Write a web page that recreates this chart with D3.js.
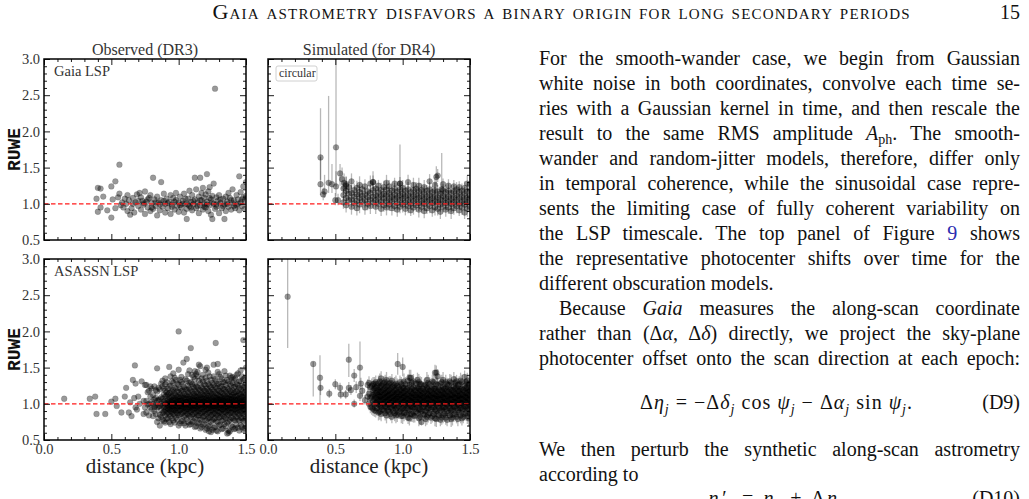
<!DOCTYPE html>
<html><head><meta charset="utf-8">
<script src="https://cdn.jsdelivr.net/npm/d3@7"></script>
<style>
body{margin:0;background:#fff;width:1029px;height:499px;overflow:hidden;position:relative;font-family:"Liberation Serif","Tinos","Times New Roman","DejaVu Serif",serif;}
svg{position:absolute;left:0;top:0}
.ln{position:absolute;left:539px;width:481px;font-size:20px;line-height:24px;height:24px;color:#111;white-space:nowrap}
.j{text-align:justify;text-align-last:justify;white-space:normal}
.ln sub{font-size:14px;vertical-align:-4px;line-height:0}
</style></head><body>
<svg id="chart" width="1029" height="499"></svg>
<div id="text"></div>
<script>
// ---------------- data ----------------
const xTicks = [0.0, 0.5, 1.0, 1.5];
const yTicks = [0.5, 1.0, 1.5, 2.0, 2.5, 3.0];
const colTitles = ["Observed (DR3)", "Simulated (for DR4)"];
const rowLabels = ["Gaia LSP", "ASASSN LSP"];
const legendLabel = "circular";
const yLabel = "RUWE";
const xLabel = "distance (kpc)";
const refRUWE = 1.0;

// Observed DR3, Gaia LSP sample: [distance kpc, RUWE]
const gaiaObs = [[0.39,1.07],[0.40,0.89],[0.40,1.22],[0.42,1.21],[0.42,0.95],[0.44,1.10],[0.47,0.91],[0.50,1.24],[0.50,0.81],[0.51,1.06],[0.53,1.31],[0.53,0.94],[0.55,1.09],[0.56,1.54],[0.56,1.14],[0.57,0.98],[0.58,1.02],[0.59,0.95],[0.60,1.07],[0.61,1.00],[0.62,0.90],[0.62,1.12],[0.63,1.05],[0.64,0.85],[0.65,0.94],[0.66,1.08],[0.66,1.00],[0.67,0.88],[0.68,1.02],[0.69,1.13],[0.70,0.97],[0.70,1.04],[0.71,1.15],[0.72,1.09],[0.72,0.92],[0.73,1.04],[0.74,0.99],[0.74,1.01],[0.75,1.17],[0.75,0.86],[0.76,1.03],[0.77,0.95],[0.77,1.06],[0.78,1.08],[0.79,1.12],[0.79,0.90],[0.80,1.01],[0.80,0.95],[0.81,1.36],[0.81,0.93],[0.82,1.06],[0.83,0.97],[0.83,1.02],[0.84,0.84],[0.84,1.10],[0.85,1.02],[0.86,0.91],[0.86,0.99],[0.87,1.30],[0.87,1.05],[0.88,0.96],[0.89,1.14],[0.89,1.04],[0.90,1.00],[0.90,0.88],[0.91,1.07],[0.92,0.94],[0.92,1.01],[0.93,1.03],[0.94,1.12],[0.94,0.86],[0.95,0.99],[0.95,0.96],[0.96,1.08],[0.97,0.92],[0.97,1.03],[0.98,1.05],[0.98,1.15],[0.99,0.97],[1.00,1.02],[1.00,0.89],[1.01,1.10],[1.01,0.98],[1.02,0.95],[1.03,1.04],[1.03,1.00],[1.04,0.88],[1.04,1.14],[1.05,1.00],[1.05,1.07],[1.06,0.79],[1.06,0.93],[1.07,1.07],[1.07,0.99],[1.08,0.97],[1.08,1.18],[1.09,1.03],[1.09,0.95],[1.10,0.91],[1.10,1.12],[1.11,0.99],[1.11,1.04],[1.12,1.36],[1.12,1.06],[1.13,0.94],[1.13,1.20],[1.14,1.02],[1.14,0.97],[1.15,0.87],[1.15,1.10],[1.16,1.36],[1.16,0.98],[1.16,1.05],[1.17,1.15],[1.17,1.05],[1.18,0.92],[1.18,1.22],[1.19,1.00],[1.19,1.08],[1.19,0.96],[1.20,0.95],[1.20,1.13],[1.21,1.41],[1.21,1.03],[1.21,0.99],[1.22,0.90],[1.22,1.17],[1.23,1.23],[1.23,0.98],[1.23,1.08],[1.24,1.06],[1.24,0.85],[1.25,0.79],[1.25,1.11],[1.25,1.02],[1.26,1.28],[1.26,1.00],[1.27,2.59],[1.27,0.93],[1.28,1.09],[1.28,0.96],[1.28,0.99],[1.29,1.04],[1.30,0.87],[1.30,1.12],[1.31,1.01],[1.31,1.06],[1.32,0.94],[1.33,1.07],[1.33,0.97],[1.34,0.79],[1.34,0.99],[1.35,1.10],[1.35,0.90],[1.36,1.03],[1.36,1.00],[1.37,1.15],[1.37,0.96],[1.38,1.08],[1.39,0.92],[1.39,1.05],[1.40,1.01],[1.40,1.20],[1.41,1.05],[1.41,0.97],[1.42,0.94],[1.43,1.12],[1.43,0.98],[1.44,1.06],[1.44,1.00],[1.45,1.38],[1.45,0.91],[1.46,1.02],[1.46,1.16],[1.47,0.97],[1.47,1.06],[1.48,1.09],[1.48,1.24],[1.49,1.04],[1.49,0.93],[1.50,1.30],[1.50,1.11]];

// Simulated (circular), Gaia LSP: isolated stars [distance, RUWE, lower, upper]
const gaiaSimSparse = [[0.39,1.27,1.12,1.65],[0.39,1.64,1.33,2.32],[0.41,1.13,1.05,1.22],[0.42,1.17,1.08,1.40],[0.45,1.29,1.15,2.49],[0.475,1.27,1.15,1.55],[0.50,1.05,0.98,1.15],[0.505,1.24,1.10,1.45],[0.505,1.78,1.24,3.05],[0.52,1.05,0.98,1.14],[0.535,1.42,1.25,1.55],[0.55,1.34,1.20,1.50],[0.565,1.29,1.18,1.42],[0.58,1.25,1.12,1.38],[0.78,1.30,1.18,1.45],[0.98,1.28,1.12,1.82],[1.25,1.37,1.25,1.52],[1.29,1.20,1.08,1.70],[1.50,1.27,1.12,1.40]];
// Simulated (circular), Gaia LSP bulk: [distance, error (x100), RUWE values (x100)]
const gaiaSimCols = [[0.56,9,[102,112,121]],[0.58,10,[98,108,118,127]],[0.60,8,[105,114,123]],[0.62,11,[96,106,115,131]],[0.64,9,[101,110,119]],[0.66,10,[94,104,113,122]],[0.68,12,[99,108,116,126]],[0.70,8,[103,111,120]],[0.72,10,[95,105,113,124]],[0.74,9,[100,109,117]],[0.76,11,[97,106,115,128]],[0.78,9,[102,110,119,130]],[0.80,10,[96,105,112,121]],[0.82,8,[100,108,116,125]],[0.84,10,[93,103,111,119]],[0.86,9,[98,107,114,123]],[0.88,11,[95,104,112,120,129]],[0.90,9,[99,107,115,124]],[0.92,10,[94,103,110,118]],[0.94,8,[97,106,113,121,128]],[0.96,10,[92,101,109,117]],[0.98,9,[96,105,112,120,128]],[1.00,11,[99,107,114,122]],[1.02,9,[93,102,110,118]],[1.04,10,[97,105,112,120,130]],[1.06,8,[91,100,108,116]],[1.08,10,[95,104,111,119,126]],[1.10,9,[98,106,113,121]],[1.12,11,[92,101,109,117,125]],[1.14,9,[96,104,111,119]],[1.16,10,[90,100,107,115,123]],[1.18,8,[94,103,110,118]],[1.20,10,[97,105,112,120,131]],[1.22,9,[91,101,108,116]],[1.24,11,[95,103,110,118,126]],[1.26,9,[93,102,109,117,139]],[1.28,10,[89,99,106,114]],[1.30,8,[96,104,111,119,127]],[1.32,10,[92,101,108,116]],[1.34,9,[95,103,110,118,125]],[1.36,11,[90,100,107,115]],[1.38,9,[94,102,109,117,124]],[1.40,10,[97,105,112,120]],[1.42,8,[91,100,108,116,123]],[1.44,10,[95,103,110,118]],[1.46,9,[88,99,106,114,122]],[1.48,11,[93,102,109,117,128]],[1.50,9,[96,104,111,119]]];

// Observed DR3, ASASSN LSP: isolated stars [distance, RUWE]
const asassnObsSparse = [[0.15,1.07],[0.34,1.07],[0.38,1.10],[0.39,0.86],[0.455,0.86],[0.50,1.03],[0.53,1.07],[0.54,0.97],[0.575,0.88],[0.60,1.10],[0.61,1.22],[0.63,0.88],[0.64,1.02],[0.65,0.83],[0.66,1.33],[0.675,1.53],[0.67,1.08],[0.68,1.28],[0.68,0.95],[0.69,0.92],[0.70,1.10],[0.71,1.00],[0.725,1.31],[0.74,0.86],[0.74,1.04],[0.75,1.26],[0.75,0.95],[0.84,1.49],[0.93,1.51],[1.0,2.0],[1.035,1.57],[1.06,1.62],[1.09,1.77],[1.12,1.45],[1.15,1.54],[1.275,1.84],[1.29,1.55],[1.48,1.88],[1.225,0.62],[1.37,0.60]];
// Observed DR3, ASASSN LSP bulk: [distance, RUWE values (x100)]
const asassnObsCols = [[0.76,[88,104,126]],[0.77,[99,116]],[0.78,[84,100,118]],[0.79,[95,110,124]],[0.80,[92,103,121]],[0.81,[83,100,112]],[0.82,[90,96,106,124]],[0.83,[86,98,108,119]],[0.84,[75,95,104,117]],[0.85,[80,96,105,122]],[0.86,[70,85,97,106,120]],[0.87,[82,91,100,109,128]],[0.88,[78,87,98,107,124,132]],[0.89,[76,89,95,103,113,121]],[0.90,[74,84,91,96,100,104,110,118,127,135]],[0.91,[79,87,93,101,111,116,130]],[0.92,[80,88,94,98,102,106,113,121]],[0.93,[75,86,92,96,100,104,109,115,124]],[0.94,[72,83,90,95,99,103,108,116,125,138]],[0.95,[80,88,93,97,101,105,110,117,131]],[0.96,[77,86,92,97,101,105,111,119,129,142]],[0.97,[74,85,91,96,100,104,108,114,122,136]],[0.98,[81,89,94,98,102,106,112,121,133]],[0.99,[78,87,92,97,101,105,110,117,128]],[1.00,[70,84,91,96,100,104,109,116,126,147]],[1.01,[73,85,91,96,100,104,108,113,121,133]],[1.02,[76,86,93,97,101,105,110,118,130,137]],[1.03,[77,88,93,97,101,105,111,119,127]],[1.04,[73,82,90,95,99,103,108,114,123]],[1.05,[70,84,90,95,99,103,107,112,120,134]],[1.06,[79,87,93,98,102,106,112,120,132]],[1.07,[75,86,92,96,100,104,109,116,125,141]],[1.08,[71,83,90,95,99,103,107,113,121,129,146]],[1.09,[72,82,89,94,98,102,106,111,119,130]],[1.10,[75,85,92,97,101,105,110,117,127,140]],[1.11,[76,86,92,96,100,104,108,114,123,137]],[1.12,[68,80,88,94,98,102,106,111,118,126,134]],[1.13,[69,81,88,93,97,101,105,110,116,124,141]],[1.14,[73,84,91,96,100,104,109,115,123,138,144]],[1.15,[74,84,90,95,99,103,107,112,120,132]],[1.16,[66,78,87,93,98,102,106,112,119,128,152]],[1.17,[68,79,87,93,97,101,105,109,115,123,135]],[1.18,[71,82,89,95,99,103,107,113,121,131,140]],[1.19,[72,83,90,95,99,103,107,112,118,127]],[1.20,[64,77,86,92,97,101,105,110,117,125,136,147]],[1.21,[66,78,86,92,96,100,104,108,114,121,132,150]],[1.22,[69,80,88,94,98,102,106,111,118,127,143]],[1.23,[70,81,88,94,98,102,106,111,117,125,138]],[1.24,[61,75,84,91,96,100,104,109,115,123,133]],[1.25,[64,77,85,91,95,99,103,107,113,120,129]],[1.26,[67,79,87,93,97,101,105,110,117,126,138,154]],[1.27,[68,80,87,93,97,101,105,109,115,123,134]],[1.28,[63,76,85,92,96,100,104,108,114,122,131]],[1.29,[62,75,84,90,95,99,103,107,112,119,127,144]],[1.30,[70,81,88,94,98,102,106,111,118,128,141]],[1.31,[71,82,89,94,98,102,106,110,116,124,137]],[1.32,[65,77,86,92,97,101,105,109,116,124,134]],[1.33,[66,78,86,92,96,100,104,108,114,121,130]],[1.34,[72,82,89,95,99,103,107,112,120,130,145]],[1.35,[69,80,88,93,97,101,105,110,117,126,139]],[1.36,[59,74,84,91,96,100,104,108,114,122,133]],[1.37,[63,76,85,91,95,99,103,107,113,120,131]],[1.38,[62,78,87,93,98,102,106,111,118,127,139]],[1.39,[70,81,88,94,98,102,106,110,116,125,136]],[1.40,[68,80,88,94,99,103,107,112,119,129,137]],[1.41,[65,78,86,92,96,100,104,109,115,123,133]],[1.42,[66,77,86,92,97,101,105,110,116,124,135]],[1.43,[71,82,89,94,98,102,106,111,117,127,140]],[1.44,[67,79,87,93,98,102,106,111,118,126,142]],[1.45,[63,77,85,91,96,100,104,108,114,122,131]],[1.46,[71,81,89,95,99,103,107,113,120,131,146]],[1.47,[68,80,87,93,97,101,105,110,116,125,138]],[1.48,[64,76,85,92,97,101,105,109,115,123,134]],[1.49,[66,78,86,92,96,100,104,109,115,124,135]],[1.50,[69,80,88,94,98,102,106,112,119,128,150]]];

// Simulated (circular), ASASSN LSP: isolated stars [distance, RUWE, lower, upper]
const asassnSimSparse = [[0.146,2.48,1.77,3.05],[0.336,1.55,1.10,1.58],[0.386,1.36,1.01,1.67],[0.39,1.22,1.12,1.32],[0.455,1.14,1.08,1.20],[0.50,1.27,1.20,1.34],[0.535,1.22,1.15,1.29],[0.54,1.13,1.07,1.19],[0.577,1.13,1.07,1.19],[0.60,1.61,1.37,1.83],[0.60,1.22,1.15,1.30],[0.616,1.19,1.12,1.26],[0.64,1.39,1.30,1.48],[0.64,1.00,0.95,1.06],[0.655,1.23,1.15,1.31],[0.683,1.50,1.19,1.86],[0.683,1.11,1.04,1.18],[0.69,1.28,1.20,1.36],[0.70,1.18,1.10,1.26],[0.72,1.05,0.99,1.12],[0.963,1.55,1.40,1.70],[1.00,1.51,1.38,1.64],[1.05,1.36,1.25,1.47],[1.25,1.43,1.33,1.53],[1.14,0.75,0.70,0.82]];
// Simulated (circular), ASASSN LSP bulk: [distance, error (x100), RUWE values (x100)]
const asassnSimCols = [[0.74,8,[110,126]],[0.75,9,[100,114,129]],[0.76,9,[96,108,123]],[0.77,10,[95,110,125]],[0.78,10,[93,104,112,119,127]],[0.79,9,[91,99,106,113,121,128]],[0.80,9,[90,101,108,115,122,130]],[0.81,10,[94,102,109,116,124]],[0.82,11,[88,99,106,112,119,128]],[0.83,11,[89,97,104,110,116,123,131]],[0.84,10,[86,96,104,110,117,125,135]],[0.85,9,[92,100,106,112,119,127]],[0.86,9,[91,100,107,113,120,129]],[0.87,10,[87,96,103,109,115,122,130]],[0.88,11,[84,95,103,109,116,124,133]],[0.89,11,[91,99,105,111,117,125]],[0.90,10,[89,99,106,112,119,128]],[0.91,9,[86,95,102,108,114,121,129]],[0.92,9,[82,94,102,108,115,123,132]],[0.93,10,[90,98,104,110,116,124]],[0.94,11,[87,97,105,111,118,126]],[0.95,11,[84,93,101,107,113,120,128]],[0.96,10,[85,95,103,109,116,125]],[0.97,9,[88,97,104,110,116,123]],[0.98,9,[90,100,107,113,120,130]],[0.99,10,[83,92,100,106,112,119,127]],[1.00,11,[83,94,102,108,115,123]],[1.01,11,[87,96,103,109,115,122,131]],[1.02,10,[88,98,105,111,118,127]],[1.03,9,[85,94,101,107,113,120]],[1.04,9,[81,93,101,107,114,122,132]],[1.05,10,[80,91,99,105,111,118,126]],[1.06,11,[86,97,104,110,117,136]],[1.07,11,[86,95,102,108,114,121,129]],[1.08,10,[84,95,103,109,115,123,131]],[1.09,9,[83,93,100,106,112,119]],[1.10,9,[89,99,106,112,119,128]],[1.11,10,[87,96,103,109,115,122,133]],[1.12,11,[80,92,101,107,113,121,130]],[1.13,11,[82,92,100,106,112,119,127]],[1.14,10,[90,99,105,111,118,127]],[1.15,9,[86,95,102,108,114,121]],[1.16,9,[85,96,103,109,116,125]],[1.17,10,[79,90,99,105,111,118,126]],[1.18,11,[82,93,101,107,114,122,133]],[1.19,11,[85,94,101,107,113,120,129]],[1.20,10,[87,98,105,111,118,127]],[1.21,9,[81,92,100,106,112,119]],[1.22,9,[83,95,103,109,115,123,131]],[1.23,10,[86,95,102,108,114,121,130]],[1.24,11,[80,92,101,107,113,121,143]],[1.25,11,[79,90,99,105,111,118,127]],[1.26,10,[86,97,104,110,117,126,138]],[1.27,9,[84,94,101,107,113,120]],[1.28,9,[78,91,100,106,112,119,128]],[1.29,10,[81,92,100,106,112,119,130]],[1.30,11,[84,95,103,109,115,123,133]],[1.31,11,[86,95,102,108,114,121]],[1.32,10,[81,93,101,107,114,122,130]],[1.33,9,[78,90,99,105,111,118,127]],[1.34,9,[87,97,104,110,117,126]],[1.35,10,[84,94,101,107,113,120,131]],[1.36,11,[79,91,100,106,112,120,129]],[1.37,11,[81,92,100,106,112,119]],[1.38,10,[85,96,103,109,116,124,134]],[1.39,9,[86,95,102,108,114,121,129]],[1.40,9,[82,94,102,108,114,122,131]],[1.41,10,[79,91,99,105,111,118,126]],[1.42,11,[88,98,105,111,118,127]],[1.43,11,[84,94,101,107,113,120,132]],[1.44,10,[80,92,101,107,113,121,130]],[1.45,9,[82,93,100,106,112,119]],[1.46,9,[86,96,104,110,117,125,137]],[1.47,10,[87,96,103,109,115,122,130]],[1.48,11,[83,94,102,108,115,123,132]],[1.49,11,[80,92,100,106,112,119,127]],[1.50,10,[87,97,105,111,118,128]]];

// page text
const headerText = "Gaia astrometry disfavors a binary origin for long secondary periods";
const pageNumber = "15";
const paraLines = [
 ["For the smooth-wander case, we begin from Gaussian", 1, 0],
 ["white noise in both coordinates, convolve each time se-", 1, 0],
 ["ries with a Gaussian kernel in time, and then rescale the", 1, 0],
 ["result to the same RMS amplitude <i>A</i><sub>ph</sub>. The smooth-", 1, 0],
 ["wander and random-jitter models, therefore, differ only", 1, 0],
 ["in temporal coherence, while the sinusoidal case repre-", 1, 0],
 ["sents the limiting case of fully coherent variability on", 1, 0],
 ["the LSP timescale. The top panel of Figure <span style='color:#2b2bb0'>9</span> shows", 1, 0],
 ["the representative photocenter shifts over time for the", 1, 0],
 ["different obscuration models.", 0, 0],
 ["Because <i>Gaia</i> measures the along-scan coordinate", 1, 20],
 ["rather than (Δ<i>α</i>, Δ<i>δ</i>) directly, we project the sky-plane", 1, 0],
 ["photocenter offset onto the scan direction at each epoch:", 1, 0]
];
const afterLines = [
 ["We then perturb the synthetic along-scan astrometry", 1, 0],
 ["according to", 0, 0]
];

// ---------------- drawing ----------------
const svg = d3.select("#chart");
const FONT = "'Liberation Serif', Tinos, 'Times New Roman', 'DejaVu Serif', serif";
const MONO = "'Liberation Mono', Cousine, 'Courier New', 'DejaVu Sans Mono', monospace";

const panels = [
 {x0:44, x1:246, y0:59, y1:240, showX:false, showY:true, col:0, row:0},
 {x0:268, x1:470, y0:59, y1:240, showX:false, showY:false, col:1, row:0},
 {x0:44, x1:246, y0:259, y1:440, showX:true, showY:true, col:0, row:1},
 {x0:268, x1:470, y0:259, y1:440, showX:true, showY:false, col:1, row:1}
];
const minorX = d3.range(0, 16).map(i => i/10).filter(v => !xTicks.some(t => Math.abs(t-v) < 1e-6));
const minorY = d3.range(5, 31).map(i => i/10).filter(v => !yTicks.some(t => Math.abs(t-v) < 1e-6));

panels.forEach((p, pi) => {
  p.x = d3.scaleLinear().domain([0, 1.5]).range([p.x0, p.x1]);
  p.y = d3.scaleLinear().domain([0.5, 3.0]).range([p.y1, p.y0]);
  const g = svg.append("g");
  const clipId = "clip" + pi;
  svg.append("clipPath").attr("id", clipId).append("rect")
    .attr("x", p.x0).attr("y", p.y0).attr("width", p.x1 - p.x0).attr("height", p.y1 - p.y0);
  const data = g.append("g").attr("clip-path", `url(#${clipId})`);

  const dotR = 2.9;
  function dots(arr) {
    data.append("g").selectAll("circle").data(arr).join("circle")
      .attr("cx", d => p.x(d[0])).attr("cy", d => p.y(d[1])).attr("r", dotR)
      .attr("fill", "#000").attr("fill-opacity", 0.4)
      .attr("stroke", "#000").attr("stroke-opacity", 0.18).attr("stroke-width", 0.7);
  }
  function bars(arr) {
    data.append("g").selectAll("line").data(arr).join("line")
      .attr("x1", d => p.x(d[0])).attr("x2", d => p.x(d[0]))
      .attr("y1", d => p.y(d[2])).attr("y2", d => p.y(d[3]))
      .attr("stroke", "#000").attr("stroke-opacity", 0.28).attr("stroke-width", 1.3);
  }
  function expandCols(cols) {
    const out = [];
    cols.forEach(c => c[2].forEach(v => out.push([c[0], v/100, (v - c[1])/100, (v + c[1])/100])));
    return out;
  }
  if (pi === 0) dots(gaiaObs);
  if (pi === 2) {
    const pts = asassnObsSparse.slice();
    asassnObsCols.forEach(c => c[1].forEach(v => pts.push([c[0], v/100])));
    dots(pts);
  }
  if (pi === 1 || pi === 3) {
    const sparse = pi === 1 ? gaiaSimSparse : asassnSimSparse;
    const bulk = expandCols(pi === 1 ? gaiaSimCols : asassnSimCols);
    const all = sparse.concat(bulk);
    bars(all);
    dots(all);
  }

  g.append("line").attr("x1", p.x0).attr("x2", p.x1)
    .attr("y1", p.y(refRUWE)).attr("y2", p.y(refRUWE))
    .attr("stroke", "#ff1a1a").attr("stroke-width", 1.3).attr("stroke-dasharray", "4.5,2.5");

  const fmt = d3.format(".1f");
  function ax(gen, tr, vals, size, labels) {
    const a = g.append("g").attr("transform", tr)
      .call(gen.tickValues(vals).tickSize(-size).tickSizeOuter(0).tickPadding(labels ? 4 : 3)
        .tickFormat(labels ? fmt : ""));
    a.select(".domain").remove();
    a.selectAll("line").attr("stroke-width", 0.9);
    a.selectAll("text").attr("font-family", FONT).attr("font-size", 14.5).attr("fill", "#333");
    return a;
  }
  ax(d3.axisBottom(p.x), `translate(0,${p.y1})`, xTicks, 6, p.showX);
  ax(d3.axisBottom(p.x), `translate(0,${p.y1})`, minorX, 3, false);
  ax(d3.axisTop(p.x), `translate(0,${p.y0})`, xTicks, 6, false);
  ax(d3.axisTop(p.x), `translate(0,${p.y0})`, minorX, 3, false);
  ax(d3.axisLeft(p.y), `translate(${p.x0},0)`, yTicks, 6, p.showY);
  ax(d3.axisLeft(p.y), `translate(${p.x0},0)`, minorY, 3, false);
  ax(d3.axisRight(p.y), `translate(${p.x1},0)`, yTicks, 6, false);
  ax(d3.axisRight(p.y), `translate(${p.x1},0)`, minorY, 3, false);

  g.append("rect").attr("x", p.x0).attr("y", p.y0).attr("width", p.x1 - p.x0).attr("height", p.y1 - p.y0)
    .attr("fill", "none").attr("stroke", "#000").attr("stroke-width", 1.5);

  if (p.row === 0) {
    g.append("text").attr("x", (p.x0 + p.x1)/2).attr("y", 55).attr("text-anchor", "middle")
      .attr("font-family", FONT).attr("font-size", 16).attr("fill", "#333").text(colTitles[p.col]);
  }
  if (p.col === 0) {
    g.append("text").attr("x", p.x0 + 10).attr("y", p.y0 + 17)
      .attr("font-family", FONT).attr("font-size", 14.5).attr("fill", "#333").text(rowLabels[p.row]);
    g.append("text").attr("transform", `translate(20,${(p.y0 + p.y1)/2}) rotate(-90)`)
      .attr("text-anchor", "middle").attr("font-family", MONO).attr("font-weight", "bold")
      .attr("font-size", 18).attr("fill", "#111").text(yLabel);
  }
  if (p.row === 1) {
    g.append("text").attr("x", (p.x0 + p.x1)/2).attr("y", 473).attr("text-anchor", "middle")
      .attr("font-family", FONT).attr("font-size", 21).attr("fill", "#222").text(xLabel);
  }
  if (p.col === 1 && p.row === 0) {
    const lg = g.append("g");
    lg.append("rect").attr("x", p.x0 + 8).attr("y", p.y0 + 7).attr("width", 41).attr("height", 15).attr("rx", 2)
      .attr("fill", "#fff").attr("stroke", "#d0d0d0").attr("stroke-width", 1);
    lg.append("text").attr("x", p.x0 + 11).attr("y", p.y0 + 18).attr("font-family", FONT)
      .attr("font-size", 12).attr("fill", "#333").text(legendLabel);
  }
});

// header
svg.append("text").attr("x", 561).attr("y", 19).attr("text-anchor", "middle")
  .attr("font-family", FONT).attr("font-size", 22).style("font-variant", "small-caps")
  .attr("textLength", 697).attr("lengthAdjust", "spacing").attr("fill", "#111").text(headerText);
svg.append("text").attr("x", 1020).attr("y", 19).attr("text-anchor", "end")
  .attr("font-family", FONT).attr("font-size", 20).attr("fill", "#111").text(pageNumber);

// paragraph lines
const tx = d3.select("#text");
const LS = 25.0, B0 = 64.5;
function addLine(l, baseline) {
  tx.append("div").attr("class", "ln" + (l[1] ? " j" : ""))
    .style("top", (baseline - 18.7) + "px")
    .style("text-indent", l[2] + "px")
    .html(l[0]);
}
paraLines.forEach((l, i) => addLine(l, B0 + i * LS));
afterLines.forEach((l, i) => addLine(l, 456 + i * LS));

// equations
function eq(x, y, parts, len) {
  const t = svg.append("text").attr("x", x).attr("y", y).attr("font-family", FONT).attr("font-size", 20)
    .attr("fill", "#111").attr("text-anchor", "middle").style("white-space", "pre")
    .attr("textLength", len).attr("lengthAdjust", "spacing");
  parts.forEach(p => {
    const s = t.append("tspan").text(p[0]);
    if (p[1] === "i") s.attr("font-style", "italic");
    if (p[1] === "sub") { s.attr("font-style", "italic").attr("font-size", 14).attr("dy", 5); }
    if (p[1] === "up") { s.attr("dy", -5); }
  });
}
eq(776, 409, [["Δ"],["η","i"],["j","sub"],[" = −Δ","up"],["δ","i"],["j","sub"],[" cos ","up"],["ψ","i"],["j","sub"],
  [" − Δ","up"],["α","i"],["j","sub"],[" sin ","up"],["ψ","i"],["j","sub"],[".","up"]], 272);
svg.append("text").attr("x", 1020).attr("y", 409).attr("text-anchor", "end").attr("font-family", FONT)
  .attr("font-size", 20).attr("fill", "#111").text("(D9)");
eq(776, 505, [["η′","i"],["j","sub"],[" = ","up"],["η","i"],["j","sub"],[" + Δ","up"],["η","i"],["j","sub"]], 135);
svg.append("text").attr("x", 1020).attr("y", 505).attr("text-anchor", "end").attr("font-family", FONT)
  .attr("font-size", 20).attr("fill", "#111").text("(D10)");
</script>
</body></html>
